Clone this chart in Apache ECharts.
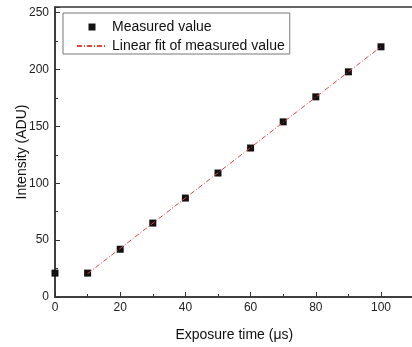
<!DOCTYPE html>
<html>
<head>
<meta charset="utf-8">
<script src="https://cdn.jsdelivr.net/npm/echarts@6/dist/echarts.min.js"></script>
<style>
  html, body { margin: 0; padding: 0; background: #fff; }
  #chart { width: 412px; height: 347px; }
</style>
</head>
<body>
<div id="chart"></div>
<script>
// Exposure time (µs) and measured intensity (ADU)
const exposureTimes = [0, 10, 20, 30, 40, 50, 60, 70, 80, 90, 100];
const intensities = [21, 21, 42, 65, 87, 109, 131, 154, 176, 198, 220];

// End points of the linear fit over 10–100 µs
const fitTimes = [10, 100];
const fitValues = [20.5, 220.1];

const measuredName = 'Measured value';
const fitName = 'Linear fit of measured value';

const measuredData = exposureTimes.map((t, i) => [t, intensities[i]]);
const fitData = fitTimes.map((t, i) => [t, fitValues[i]]);

const axisColor = '#333';
const fitColor = '#e4463c';
const font = 'Liberation Sans, Arial, sans-serif';

const chart = echarts.init(document.getElementById('chart'), null, { renderer: 'canvas' });

chart.setOption({
  backgroundColor: '#fff',
  animation: false,
  textStyle: { fontFamily: font },
  grid: {
    left: 55, top: 7, width: 358.6, bottom: 50,
    containLabel: false,
    outerBoundsMode: 'none',
    show: true, borderColor: axisColor, borderWidth: 1.5,
    backgroundColor: 'transparent'
  },
  legend: {
    orient: 'vertical',
    left: 63, top: 13,
    padding: [7, 5, 1, 13],
    itemWidth: 30, itemHeight: 7,
    itemGap: 5,
    borderColor: '#777', borderWidth: 1,
    textStyle: { fontSize: 14, color: '#111', fontFamily: font },
    data: [
      { name: measuredName, icon: 'path://M0,0h10v10h-10z' },
      {
        name: fitName,
        itemStyle: { color: 'rgba(0,0,0,0)', borderWidth: 0, opacity: 0 }
      }
    ]
  },
  xAxis: {
    type: 'value',
    min: 0, max: 110, interval: 20,
    name: 'Exposure time (\u03bcs)',
    nameLocation: 'middle', nameGap: 31,
    nameMoveOverlap: false,
    nameTextStyle: { fontSize: 14, color: '#111', fontFamily: font },
    axisLine: { lineStyle: { color: axisColor, width: 1.5 } },
    axisTick: { inside: true, length: 5, lineStyle: { color: axisColor } },
    minorTick: { show: true, splitNumber: 2, length: 3, lineStyle: { color: axisColor } },
    splitLine: { show: false },
    axisLabel: {
      margin: 5, fontSize: 12, color: '#222', fontFamily: font,
      formatter: v => (v % 20 === 0 ? String(v) : '')
    }
  },
  yAxis: {
    type: 'value',
    min: 0, max: 255, interval: 50,
    name: 'Intensity (ADU)',
    nameLocation: 'middle', nameGap: 26,
    nameMoveOverlap: false,
    nameTextStyle: { fontSize: 14, color: '#111', fontFamily: font },
    axisLine: { show: true, lineStyle: { color: axisColor, width: 1.5 } },
    axisTick: { show: true, inside: true, length: 5, lineStyle: { color: axisColor } },
    minorTick: { show: true, splitNumber: 2, length: 3, lineStyle: { color: axisColor } },
    splitLine: { show: false },
    axisLabel: {
      margin: 6, fontSize: 12, color: '#222', fontFamily: font,
      formatter: v => (v % 50 === 0 ? String(v) : '')
    }
  },
  series: [
    {
      name: measuredName,
      type: 'scatter',
      symbol: 'rect',
      symbolSize: 7,
      itemStyle: { color: '#111', opacity: 1 },
      data: measuredData,
      z: 2
    },
    {
      name: fitName,
      type: 'line',
      symbol: 'none',
      showSymbol: false,
      lineStyle: { color: fitColor, width: 1, type: [5, 2, 1, 2] },
      itemStyle: { color: fitColor },
      data: fitData,
      z: 3
    }
  ]
});
</script>
</body>
</html>
